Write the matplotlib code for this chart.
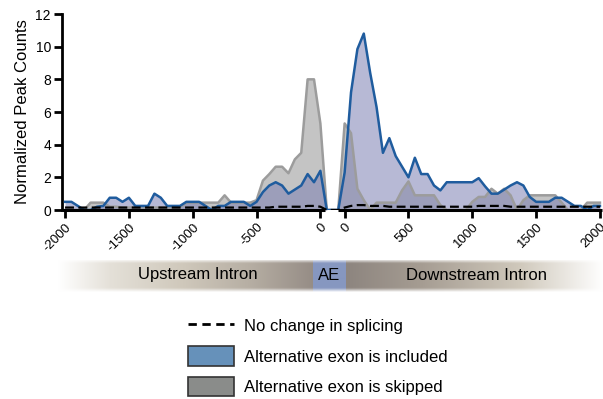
import numpy as np
import matplotlib
matplotlib.use('Agg')
from matplotlib import pyplot as plt
from matplotlib.lines import Line2D
from matplotlib.patches import Patch

plt.rcParams['font.family'] = ['Liberation Sans', 'DejaVu Sans']

# Posições (bins de 50 nt) em cada íntron
pos_up = [-2000, -1950, -1900, -1850, -1800, -1750, -1700, -1650, -1600, -1550,
          -1500, -1450, -1400, -1350, -1300, -1250, -1200, -1150, -1100, -1050,
          -1000, -950, -900, -850, -800, -750, -700, -650, -600, -550,
          -500, -450, -400, -350, -300, -250, -200, -150, -100, -50, 0, 50]
pos_down = [-50, 0, 50, 100, 150, 200, 250, 300, 350, 400,
            450, 500, 550, 600, 650, 700, 750, 800, 850, 900,
            950, 1000, 1050, 1100, 1150, 1200, 1250, 1300, 1350, 1400,
            1450, 1500, 1550, 1600, 1650, 1700, 1750, 1800, 1850, 1900, 1950, 2000]

# Éxon incluído (azul)
incl_up = [0.5, 0.5, 0.25, 0.0, 0.0, 0.2, 0.25, 0.75, 0.75, 0.5,
           0.75, 0.25, 0.25, 0.25, 1.0, 0.75, 0.25, 0.25, 0.25, 0.5,
           0.5, 0.5, 0.25, 0.0, 0.25, 0.25, 0.5, 0.5, 0.5, 0.25,
           0.5, 1.1, 1.5, 1.7, 1.5, 1.0, 1.25, 1.5, 2.2, 1.7, 2.4, 0.0]
incl_down = [0.0, 2.3, 7.2, 9.85, 10.8, 8.4, 6.3, 3.5, 4.4, 3.3,
             2.65, 2.0, 3.2, 2.2, 2.2, 1.5, 1.2, 1.7, 1.7, 1.7,
             1.7, 1.7, 1.95, 1.45, 1.0, 1.0, 1.25, 1.5, 1.7, 1.5,
             0.8, 0.5, 0.5, 0.5, 0.75, 0.75, 0.5, 0.25, 0.25, 0.0, 0.25, 0.25]

# Éxon pulado (cinza)
skip_up = [0.0, 0.0, 0.0, 0.0, 0.45, 0.45, 0.45, 0.2, 0.2, 0.15,
           0.15, 0.15, 0.15, 0.15, 0.15, 0.15, 0.15, 0.15, 0.15, 0.45,
           0.45, 0.45, 0.45, 0.45, 0.45, 0.9, 0.45, 0.45, 0.45, 0.45,
           0.6, 1.8, 2.2, 2.65, 2.65, 2.25, 3.1, 3.5, 8.0, 8.0, 5.3, 0.0]
skip_down = [0.0, 5.3, 4.7, 1.3, 0.6, 0.0, 0.45, 0.45, 0.45, 0.45,
             1.2, 1.75, 0.9, 0.9, 0.9, 0.9, 0.3, 0.0, 0.0, 0.0,
             0.0, 0.5, 0.8, 0.8, 1.3, 1.0, 1.3, 0.9, 0.0, 0.6,
             0.9, 0.9, 0.9, 0.9, 0.9, 0.45, 0.0, 0.0, 0.0, 0.45, 0.45, 0.45]

# Sem mudança (tracejado)
none_up = [0.15, 0.15, 0.15, 0.15, 0.15, 0.15, 0.15, 0.15, 0.15, 0.15,
           0.15, 0.15, 0.15, 0.15, 0.15, 0.15, 0.15, 0.15, 0.15, 0.15,
           0.15, 0.15, 0.15, 0.15, 0.15, 0.15, 0.15, 0.15, 0.15, 0.15,
           0.15, 0.15, 0.15, 0.2, 0.2, 0.2, 0.2, 0.2, 0.25, 0.25, 0.2, 0.0]
none_down = [0.0, 0.15, 0.25, 0.3, 0.3, 0.25, 0.25, 0.25, 0.2, 0.2,
             0.2, 0.2, 0.2, 0.2, 0.2, 0.2, 0.2, 0.2, 0.2, 0.2,
             0.2, 0.2, 0.25, 0.25, 0.25, 0.25, 0.25, 0.2, 0.2, 0.2,
             0.2, 0.2, 0.2, 0.2, 0.2, 0.2, 0.2, 0.2, 0.2, 0.2, 0.2, 0.2]

tick_up = [-2000, -1500, -1000, -500, 0]
tick_down = [0, 500, 1000, 1500, 2000]

GAP = 190  # deslocamento do íntron downstream no eixo
x = np.array(pos_up + [p + GAP for p in pos_down])
incl = np.array(incl_up + incl_down)
skip = np.array(skip_up + skip_down)
none = np.array(none_up + none_down)

fig = plt.figure(figsize=(6.03, 3.99), dpi=100)
ax = fig.add_axes([62 / 603, 1 - 210 / 399, 540 / 603, 196 / 399])

ax.fill_between(x, skip, color='#c4c4c4', lw=0, zorder=1)
ax.fill_between(x, incl, color='#7c80b3', alpha=0.55, lw=0, zorder=2)
ax.plot(x, skip, color='#9c9c9c', lw=1.8, zorder=3)
ax.plot(x, incl, color='#1f5c9e', lw=1.8, zorder=4)
ax.plot(x, none, color='black', lw=1.6, ls=(0, (4, 2)), zorder=5)

ax.set_xlim(-2024, 2206)
ax.set_ylim(0, 12)

# eixo x quebrado em dois segmentos
ax.spines['bottom'].set_visible(False)
ax.spines['top'].set_visible(False)
ax.spines['right'].set_visible(False)
ax.spines['left'].set_linewidth(2)
ax.spines['left'].set_bounds(0, 12)
ax.plot([-2024, 40], [0, 0], color='black', lw=2.2, zorder=6, clip_on=False, solid_capstyle='butt')
ax.plot([140, 2206], [0, 0], color='black', lw=2.2, zorder=6, clip_on=False, solid_capstyle='butt')

xt = tick_up + [t + GAP for t in tick_down]
ax.set_xticks(xt)
ax.set_xticklabels([str(t) for t in tick_up + tick_down], rotation=45,
                   ha='right', va='top', rotation_mode='anchor', fontsize=9.5)
ax.set_yticks(range(0, 13, 2))
ax.tick_params(axis='both', width=2, length=6, pad=2)
ax.tick_params(axis='y', labelsize=10)
ax.set_ylabel('Normalized Peak Counts', fontsize=12, labelpad=4)

# faixa com gradiente (íntrons / éxon)
bx0, bx1 = 58, 603
bax = fig.add_axes([bx0 / 603, 1 - 292 / 399, (bx1 - bx0) / 603, 32 / 399])
cols = np.arange(bx0, bx1)
stops_x = [58, 110, 180, 250, 312, 313, 345, 346, 420, 520, 603]
stops_c = np.array([
    [255, 255, 255], [228, 224, 216], [208, 201, 188], [182, 174, 163],
    [150, 141, 134], [134, 151, 192], [134, 151, 192], [141, 133, 127],
    [165, 156, 146], [208, 201, 188], [255, 255, 255]]) / 255.0
img = np.zeros((32, len(cols), 3))
for k in range(3):
    img[:, :, k] = np.interp(cols, stops_x, stops_c[:, k])[None, :]
rows = np.arange(32)
fade = np.clip(np.minimum(rows + 0.5, 31.5 - rows) / 4.0, 0, 1)[:, None, None]
img = img * fade + (1 - fade)
bax.imshow(img, aspect='auto', extent=(0, 1, 0, 1), interpolation='bilinear')
bax.set_axis_off()
fig.text(198 / 603, 1 - 275 / 399, 'Upstream Intron', ha='center', va='center', fontsize=12)
fig.text(329 / 603, 1 - 275 / 399, 'AE', ha='center', va='center', fontsize=12)
fig.text(476 / 603, 1 - 275 / 399, 'Downstream Intron', ha='center', va='center', fontsize=12)

handles = [
    Line2D([], [], color='black', lw=2, ls=(0, (3, 2))),
    Patch(facecolor='#6691ba', edgecolor='#333333', lw=1.2),
    Patch(facecolor='#8a8c8a', edgecolor='#333333', lw=1.2),
]
labels = ['No change in splicing', 'Alternative exon is included', 'Alternative exon is skipped']
fig.legend(handles, labels, loc='upper left', bbox_to_anchor=(188 / 603, 1 - 316 / 399),
           frameon=False, fontsize=12, handlelength=2.75, handleheight=1.45,
           handletextpad=0.6, labelspacing=0.63, borderpad=0, borderaxespad=0)

fig.savefig('out.png', dpi=100)
